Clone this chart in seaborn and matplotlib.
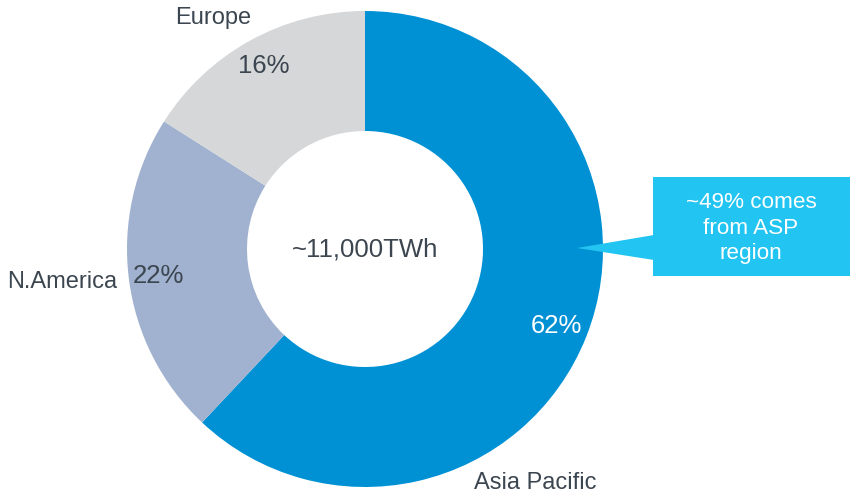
import matplotlib
matplotlib.use("Agg")
import matplotlib.pyplot as plt
import seaborn as sns
from matplotlib.patches import Rectangle, Polygon

regions = ["Asia Pacific", "N.America", "Europe"]
shares = [62, 22, 16]
colors = ["#0091D5", "#A0B2CF", "#D6D7D9"]
total_label = "~11,000TWh"
callout = "~49% comes\nfrom ASP\nregion"

sns.set_style("white")
plt.rcParams['font.family'] = ['Liberation Sans', 'DejaVu Sans']
txt = "#3C4650"

W, H = 854, 495
fig = plt.figure(figsize=(W / 100, H / 100), dpi=100)
ax = fig.add_axes([0, 0, 1, 1])

cx, cy, r = 365, H - 249, 238
wedges, _ = ax.pie(shares, colors=colors, startangle=90, counterclock=False,
                   center=(cx, cy), radius=r, frame=True,
                   wedgeprops=dict(width=120, linewidth=0))
ax.set_xlim(0, W)
ax.set_ylim(0, H)
ax.set_aspect("equal")
ax.axis("off")

# labels (pixel positions from top)
name_pos = {"Asia Pacific": (535, 483), "N.America": (62, 282), "Europe": (213, 18)}
pct_pos = {"Asia Pacific": (556, 326), "N.America": (158, 276), "Europe": (264, 66)}
for name, val in zip(regions, shares):
    x, y = name_pos[name]
    ax.text(x, H - y, name, ha="center", va="center", fontsize=17, color=txt)
    x, y = pct_pos[name]
    c = "white" if name == "Asia Pacific" else txt
    ax.text(x, H - y, f"{val}%", ha="center", va="center", fontsize=18.5, color=c)

ax.text(cx, cy, total_label, ha="center", va="center", fontsize=18.5, color=txt)

# callout box
blue = "#22C4F2"
ax.add_patch(Rectangle((653, H - 276), 197, 99, facecolor=blue, edgecolor="none"))
ax.add_patch(Polygon([(577, H - 248), (654, H - 235), (654, H - 260)],
                     closed=True, facecolor=blue, edgecolor="none"))
ax.text(751, H - 228, callout, ha="center", va="center", fontsize=16.2,
        color="white", linespacing=1.3)

fig.savefig("out.png", dpi=100)
